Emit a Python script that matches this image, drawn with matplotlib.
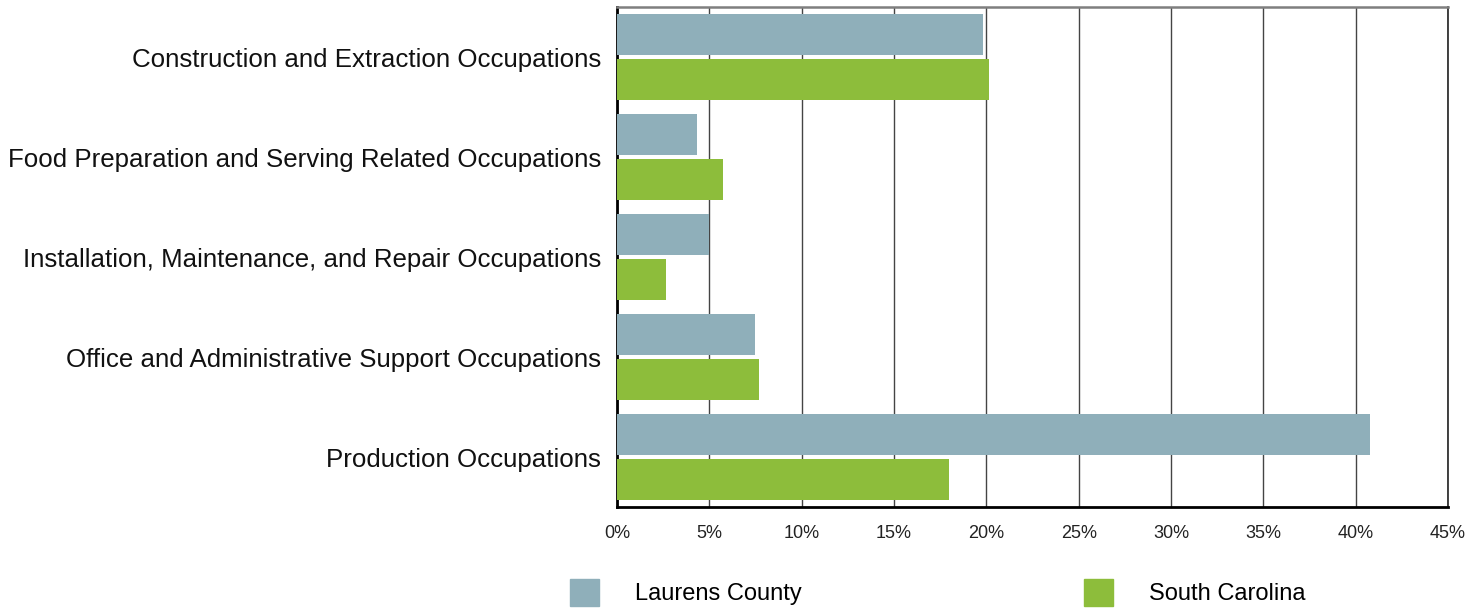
#!/usr/bin/env python3
"""
Occupation share comparison: Laurens County vs South Carolina
"""

import matplotlib
matplotlib.use('Agg')
import matplotlib.pyplot as plt
import matplotlib.patches as mpatches
import numpy as np

plt.rcParams['font.family'] = ['Liberation Sans', 'DejaVu Sans']

occupations = [
    'Construction and Extraction Occupations',
    'Food Preparation and Serving Related Occupations',
    'Installation, Maintenance, and Repair Occupations',
    'Office and Administrative Support Occupations',
    'Production Occupations',
]
laurens = [19.8, 4.35, 4.98, 7.48, 40.8]
south_carolina = [20.13, 5.72, 2.65, 7.69, 18.0]
series_names = ['Laurens County', 'South Carolina']
x_ticks = [0, 5, 10, 15, 20, 25, 30, 35, 40, 45]

LAURENS_COLOR = '#8FAFBA'
SC_COLOR = '#8DBD3B'


def main():
    fig = plt.figure(figsize=(14.81, 6.08), dpi=100)
    ax = fig.add_axes([0.4166, 0.166, 0.9777 - 0.4166, 0.9877 - 0.166])

    y = np.arange(len(occupations))
    h = 0.41
    ax.barh(y - 0.225, laurens, h, color=LAURENS_COLOR, zorder=3)
    ax.barh(y + 0.225, south_carolina, h, color=SC_COLOR, zorder=3)

    ax.set_xlim(0, 45)
    ax.set_ylim(len(occupations) - 0.5, -0.5)
    ax.set_xticks(x_ticks)
    ax.set_xticklabels([f'{t}%' for t in x_ticks], fontsize=13, color='#222222')
    ax.set_yticks(y)
    ax.set_yticklabels(occupations, fontsize=18.6, color='#111111')
    ax.tick_params(axis='x', length=0, pad=13)
    ax.tick_params(axis='y', length=0, pad=11.5)

    # vertical grid only
    ax.grid(axis='x', color='#444444', linewidth=1.0, zorder=0)
    ax.grid(axis='y', visible=False)

    ax.spines['left'].set_color('black')
    ax.spines['left'].set_linewidth(2)
    ax.spines['bottom'].set_color('black')
    ax.spines['bottom'].set_linewidth(2)
    ax.spines['top'].set_color('#7f7f7f')
    ax.spines['top'].set_linewidth(1.8)
    ax.spines['right'].set_color('#222222')
    ax.spines['right'].set_linewidth(1.2)

    handles = [mpatches.Patch(color=LAURENS_COLOR, label=series_names[0]),
               mpatches.Patch(color=SC_COLOR, label=series_names[1])]
    fig.legend(handles=handles, loc='center', bbox_to_anchor=(0.633, 0.026),
               ncol=2, frameon=False, fontsize=17,
               handlelength=1.25, handleheight=1.4, handletextpad=1.5,
               columnspacing=11.95, borderpad=0)

    plt.savefig('out.png', dpi=100)
    plt.close()


if __name__ == "__main__":
    main()
